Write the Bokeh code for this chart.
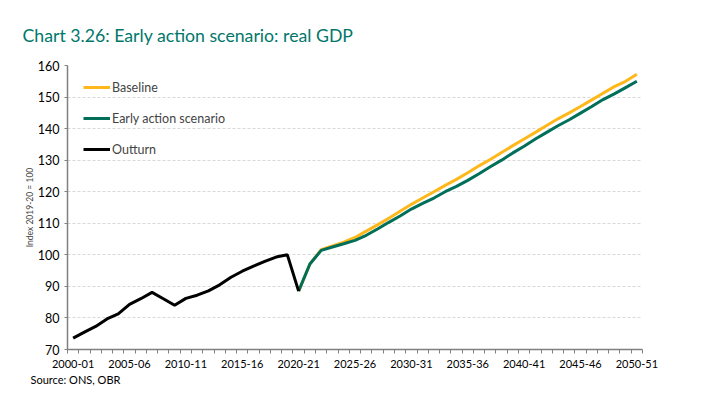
from bokeh.plotting import figure
from bokeh.models import FixedTicker, Legend, LegendItem, Title, Range1d
from bokeh.embed import file_html
from bokeh.resources import INLINE

# Fiscal years 2000-01 .. 2050-51
years = [f"{y}-{(y + 1) % 100:02d}" for y in range(2000, 2051)]

# Outturn: 2000-01 .. 2020-21
outturn = [73.6, 75.5, 77.3, 79.7, 81.3, 84.3, 86.1, 88.1, 86.1, 84.0,
           86.2, 87.2, 88.6, 90.5, 92.9, 94.8, 96.4, 97.9, 99.3, 100.0, 88.5]

# Projections: 2020-21 .. 2050-51
baseline = [88.5, 97.1, 101.6, 102.8, 104.0, 105.5, 107.5, 109.5, 111.6, 113.8,
            116.0, 118.0, 120.0, 122.0, 123.9, 126.0, 128.2, 130.2, 132.4, 134.6,
            136.7, 138.8, 141.0, 143.1, 145.0, 147.0, 149.1, 151.2, 153.3, 155.0,
            157.2]
early = [88.5, 97.1, 101.4, 102.5, 103.5, 104.6, 106.2, 108.2, 110.3, 112.3,
         114.5, 116.3, 118.0, 120.0, 121.7, 123.6, 125.7, 127.9, 130.0, 132.3,
         134.4, 136.7, 138.8, 140.9, 142.8, 144.9, 147.0, 149.2, 151.0, 153.0,
         155.0]

y_ticks = [70, 80, 90, 100, 110, 120, 130, 140, 150, 160]
label_every = 5

FONT = "Lato"
AXIS_COL = "#808080"

x_out = list(range(len(outturn)))
x_proj = list(range(len(outturn) - 1, len(outturn) - 1 + len(baseline)))

p = figure(width=700, height=395, output_backend="svg", toolbar_location=None,
           x_range=Range1d(-0.5, len(years) - 0.5), y_range=Range1d(70, 160),
           min_border_left=67, min_border_right=58, min_border_top=65,
           min_border_bottom=46)
p.outline_line_color = None
p.background_fill_color = "white"

r_b = p.line(x_proj, baseline, line_color="#FFB81C", line_width=3)
r_e = p.line(x_proj, early, line_color="#006F5A", line_width=3)
r_o = p.line(x_out, outturn, line_color="black", line_width=3)

# x axis
major = list(range(0, len(years), label_every))
p.xaxis.ticker = FixedTicker(ticks=major, minor_ticks=[i - 0.5 for i in range(len(years) + 1)])
p.xaxis.major_label_overrides = {i: years[i] for i in major}
p.xaxis.major_tick_in = 0
p.xaxis.major_tick_out = 0
p.xaxis.minor_tick_in = 0
p.xaxis.minor_tick_out = 4
p.xaxis.minor_tick_line_color = AXIS_COL
p.xaxis.axis_line_color = AXIS_COL
p.xaxis.axis_line_width = 1.5
p.xaxis.major_label_text_font = FONT
p.xaxis.major_label_text_font_size = "11px"
p.xaxis.major_label_text_color = "black"
p.xaxis.major_label_standoff = 6
p.xgrid.visible = False

# y axis
p.yaxis.ticker = FixedTicker(ticks=y_ticks)
p.yaxis.major_tick_in = 0
p.yaxis.major_tick_out = 3
p.yaxis.minor_tick_line_color = None
p.yaxis.major_tick_line_color = AXIS_COL
p.yaxis.axis_line_color = AXIS_COL
p.yaxis.axis_line_width = 1.5
p.yaxis.major_label_text_font = FONT
p.yaxis.major_label_text_font_size = "12.5px"
p.yaxis.major_label_text_color = "black"
p.yaxis.major_label_standoff = 5
p.yaxis.axis_label = "Index 2019-20 = 100"
p.yaxis.axis_label_text_font = FONT
p.yaxis.axis_label_text_font_size = "8.5px"
p.yaxis.axis_label_text_font_style = "normal"
p.yaxis.axis_label_standoff = 0
p.ygrid.grid_line_color = "#d9d9d9"
p.ygrid.grid_line_dash = "3 2"

legend = Legend(items=[LegendItem(label="Baseline", renderers=[r_b]),
                       LegendItem(label="Early action scenario", renderers=[r_e]),
                       LegendItem(label="Outturn", renderers=[r_o])],
                location=(16, 190), glyph_width=27, glyph_height=20, label_height=20,
                spacing=11, padding=0, margin=0, label_standoff=2,
                background_fill_alpha=0, border_line_color=None,
                label_text_font=FONT, label_text_font_size="12.5px")
p.add_layout(legend, "center")

p.title.text = "Chart 3.26: Early action scenario: real GDP"
p.title.text_font = FONT
p.title.text_font_size = "17.7px"
p.title.text_font_style = "normal"
p.title.text_color = "#00776A"
p.title.align = "left"
p.title.offset = -45
p.title.standoff = 39

p.add_layout(Title(text="Source: ONS, OBR", align="left", offset=-37, standoff=0,
                   text_font=FONT, text_font_size="11px", text_font_style="normal",
                   text_color="black"), "below")

open("out.html", "w").write(file_html(p, INLINE))
